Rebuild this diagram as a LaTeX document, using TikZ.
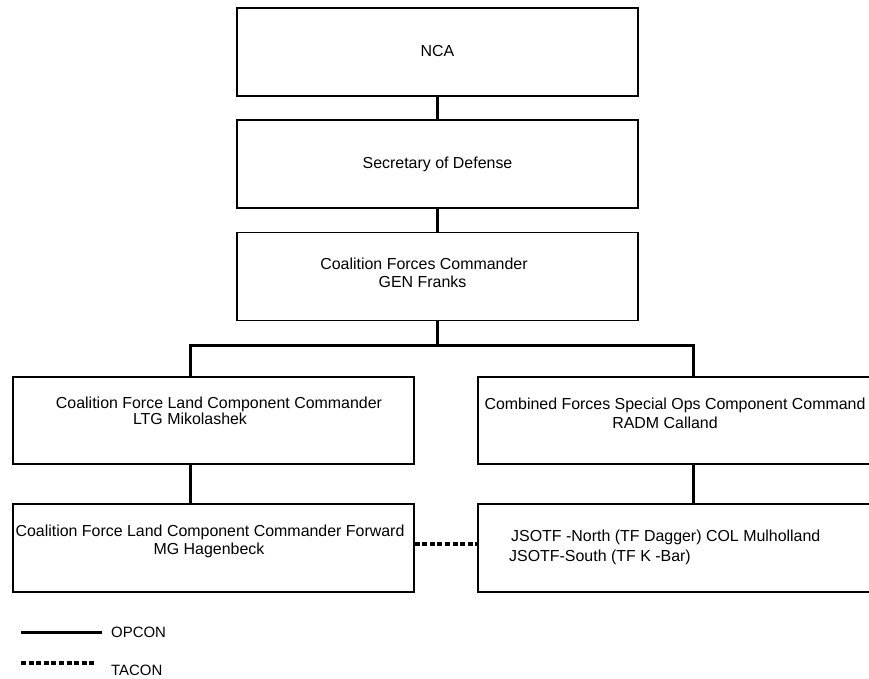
\documentclass[tikz,border=0pt]{standalone}
\usepackage{fontspec}
\setmainfont{Liberation Sans}
\begin{document}
\begin{tikzpicture}[x=1bp,y=-1bp,
  box/.style={draw=black, line width=1.2bp, minimum width=401bp, minimum height=88bp, inner sep=0pt},
  lbl/.style={font=\fontsize{16}{19}\selectfont, inner sep=0pt, anchor=base},
  leg/.style={font=\fontsize{15}{18}\selectfont, inner sep=0pt, anchor=west},
  opcon/.style={line width=3bp},
  tacon/.style={line width=3.5bp, dash pattern=on 5bp off 2.6bp},
  ]
\useasboundingbox (0,0) rectangle (869,679);
\clip (0,0) rectangle (869,679);

\node[box] (nca) at (437.5,52) {};
\node[lbl] (ncat) at (437.5,57) {NCA};
\node[box] (sec) at (437.5,164) {};
\node[lbl] (sect) at (437.5,169) {Secretary of Defense};
\node[box] (cfc) at (437.5,276.5) {};
\node[lbl] (cfct1) at (424,269.5) {Coalition Forces Commander};
\node[lbl] (cfct2) at (422.5,287.5) {GEN Franks};

\node[box, minimum height=87bp] (lcc) at (213.5,420.5) {};
\node[lbl] (lcct1) at (219,408.5) {Coalition Force Land Component Commander};
\node[lbl] (lcct2) at (190,424.5) {LTG Mikolashek};
\node[box, minimum height=87bp] (soc) at (678.5,420.5) {};
\node[lbl] (soct1) at (675,409) {Combined Forces Special Ops Component Command};
\node[lbl] (soct2) at (665,428) {RADM Calland};

\node[box] (fwd) at (213.5,548) {};
\node[lbl] (fwdt1) at (210,536.5) {Coalition Force Land Component Commander Forward};
\node[lbl] (fwdt2) at (209,554.5) {MG Hagenbeck};
\node[box] (jso) at (678.5,548) {};
\node[lbl, anchor=base west] (jsot1) at (511,541.5) {JSOTF -North (TF Dagger) COL Mulholland};
\node[lbl, anchor=base west] (jsot2) at (509,561.5) {JSOTF-South (TF K -Bar)};

\coordinate (bar) at (437.5,345);
\coordinate (barL) at (190,345);
\coordinate (barR) at (693,345);
\coordinate (tc) at (0,544);

\draw[opcon] (nca.south) -- (sec.north);
\draw[opcon] (sec.south) -- (cfc.north);
\draw[opcon] (cfc.south) -- (bar);
\draw[opcon] (lcc.north -| barL) -- (barL) -- (barR) -- (soc.north -| barR);
\draw[opcon] (lcc.south -| barL) -- (fwd.north -| barL);
\draw[opcon] (soc.south -| barR) -- (jso.north -| barR);
\draw[tacon] (fwd.east |- tc) -- (jso.west |- tc);

\coordinate (l1a) at (21,632);
\coordinate (l1b) at (102,632);
\coordinate (l2a) at (21,663);
\coordinate (l2b) at (97,663);
\draw[opcon] (l1a) -- (l1b);
\node[leg] (op) at (111,632) {OPCON};
\draw[tacon] (l2a) -- (l2b);
\node[leg] (ta) at (111,670) {TACON};
\end{tikzpicture}
\end{document}
